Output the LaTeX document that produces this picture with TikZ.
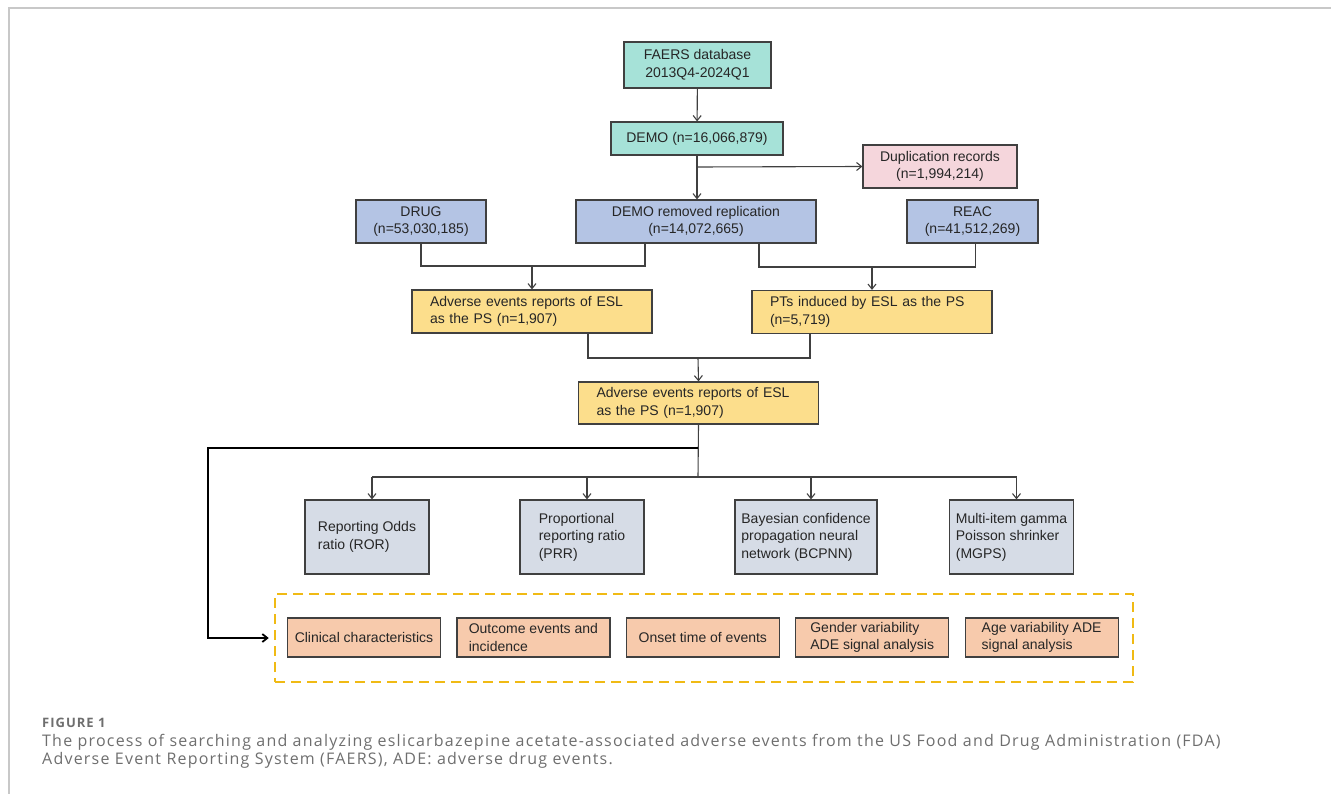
\documentclass[tikz,border=0pt]{standalone}
\usepackage{fontspec}
\setmainfont{Liberation Sans}
\newfontfamily\capfont{Open Sans}[LetterSpace=7.6]
\usetikzlibrary{arrows.meta}
\definecolor{TealClr}{RGB}{166,226,216}
\definecolor{PinkClr}{RGB}{245,214,220}
\definecolor{BlueClr}{RGB}{180,196,228}
\definecolor{YellowClr}{RGB}{252,222,140}
\definecolor{GrayClr}{RGB}{214,220,230}
\definecolor{OrangeClr}{RGB}{247,202,172}
\definecolor{DashClr}{RGB}{240,186,20}
\definecolor{LineClr}{RGB}{64,64,64}
\definecolor{CapClr}{RGB}{110,110,110}
\definecolor{FrameClr}{RGB}{200,200,200}

\tikzset{
  box/.style={draw=LineClr,line width=1.2pt,text=black!85,inner sep=0pt,
    font=\fontsize{14}{17.5}\selectfont},
  tealbox/.style={box,fill=TealClr,align=center},
  pinkbox/.style={box,fill=PinkClr,align=center,minimum width=154,minimum height=43},
  bluebox/.style={box,fill=BlueClr,align=center,minimum height=43},
  yellowbox/.style={box,fill=YellowClr,align=left,text width=204,inner xsep=18,minimum height=43},
  methodbox/.style={box,fill=GrayClr,align=left,minimum width=124,minimum height=74},
  outbox/.style={box,fill=OrangeClr,align=left,minimum width=153,minimum height=39},
  link/.style={LineClr,line width=1.1pt},
  caption/.style={anchor=base west,inner sep=0pt,text=CapClr},
  >={Straight Barb[length=5pt,width=8pt]}
}

\begin{document}
\begin{tikzpicture}[x=1pt,y=-1pt]
\useasboundingbox (0,0) rectangle (1331,794);
\draw[FrameClr,line width=1.5pt] (1331,8) -- (9,8) -- (9,794);

\node[tealbox,minimum width=147,minimum height=46] (faers) at (697.5,65) {FAERS database\\2013Q4-2024Q1};
\node[tealbox,minimum width=172,minimum height=33] (demo) at (697,138.5) {DEMO (n=16,066,879)};
\node[pinkbox] (dup) at (940,166.5) {Duplication records\\(n=1,994,214)};

\node[bluebox,minimum width=130] (drug) at (421,221.5) {DRUG\\(n=53,030,185)};
\node[bluebox,minimum width=240] (demorem) at (696,221.5) {DEMO removed replication\\(n=14,072,665)};
\node[bluebox,minimum width=131] (reac) at (972.5,221.5) {REAC\\(n=41,512,269)};

\node[yellowbox] (aeA) at (532,311.5) {Adverse events reports of ESL\\as the PS (n=1,907)};
\node[yellowbox] (pts) at (872,312) {PTs induced by ESL as the PS\\(n=5,719)};
\node[yellowbox,minimum height=42] (aeB) at (698.5,403) {Adverse events reports of ESL\\as the PS (n=1,907)};

\node[methodbox] (ror) at (367,537) {Reporting Odds\\ratio (ROR)};
\node[methodbox] (prr) at (582,537) {Proportional\\reporting ratio\\(PRR)};
\node[methodbox,minimum width=142] (bcp) at (806,537) {Bayesian confidence\\propagation neural\\network (BCPNN)};
\node[methodbox] (mgps) at (1011.5,537) {Multi-item gamma\\Poisson shrinker\\(MGPS)};

\node[draw=DashClr,line width=2.5pt,dash pattern=on 10pt off 6pt,minimum width=858,minimum height=88] (analysis) at (704,638) {};
\node[outbox] (clin) at (364,637.5) {Clinical characteristics};
\node[outbox] (outc) at (533.4,637.5) {Outcome events and\\incidence};
\node[outbox] (onset) at (702.8,637.5) {Onset time of events};
\node[outbox] (gender) at (872.2,637.5) {Gender variability\\ADE signal analysis};
\node[outbox] (age) at (1041.6,637.5) {Age variability ADE\\signal analysis};

\coordinate (split) at (697,167);
\coordinate (jA) at (532,266);
\coordinate (jB) at (872,267);
\coordinate (jC) at (698,358);
\coordinate (jE) at (698,448);
\coordinate (jD) at (698,477);
\coordinate (corner) at (208,448);

\draw[link,->] (faers) -- (demo);
\draw[link,->] (demo.south) -- (demo.south |- demorem.north);
\draw[link,->] (split) -- (dup.west);

\draw[link] (drug.south) |- (jA) -| ([xshift=-51]demorem.south);
\draw[link,->] (jA) -- (aeA.north);
\draw[link] ([xshift=63]demorem.south) |- (jB) -| ([xshift=3]reac.south);
\draw[link,->] (jB) -- (pts.north);

\draw[link] ([xshift=56]aeA.south) |- (jC) -| ([xshift=-62]pts.south);
\draw[link,->] (jC) -- (aeB.north);

\draw[link] (aeB.south) -- (jD);
\draw[link] ([xshift=5]ror.north |- jD) -- ([xshift=5]mgps.north |- jD);
\foreach \m in {ror,prr,bcp,mgps}
  \draw[link,->] ([xshift=5]\m.north |- jD) -- ([xshift=5]\m.north);

\draw[black,line width=1.8pt,->] (jE) -- (corner) |- ([xshift=-5]analysis.west);

\node[caption,font=\capfont\bfseries\fontsize{13}{15}\selectfont] (fig) at (42,727) {FIGURE 1};
\node[caption,font=\capfont\fontsize{16}{19}\selectfont] (capA) at (42,746) {The process of searching and analyzing eslicarbazepine acetate-associated adverse events from the US Food and Drug Administration (FDA)};
\node[caption,font=\capfont\fontsize{16}{19}\selectfont] (capB) at (42,764) {Adverse Event Reporting System (FAERS), ADE: adverse drug events.};
\end{tikzpicture}
\end{document}
